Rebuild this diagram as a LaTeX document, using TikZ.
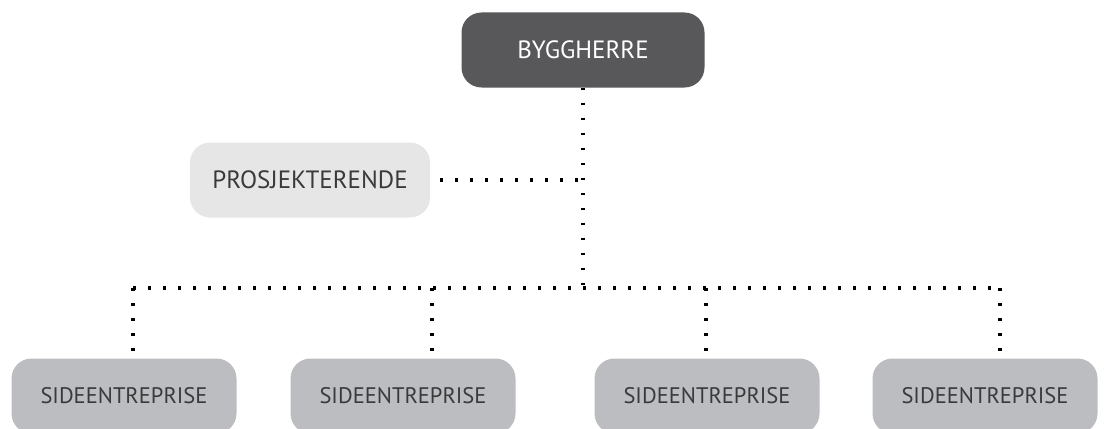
\documentclass[tikz,border=0pt]{standalone}
\usepackage{fontspec}
\setmainfont{PT Sans}
\usetikzlibrary{calc}

\definecolor{ownerbg}   {HTML}{58585A}
\definecolor{designbg}  {HTML}{E6E6E7}
\definecolor{contractbg}{HTML}{BCBDC0}
\definecolor{boxtext}   {HTML}{3A3A3C}

\tikzset{
  orgbox/.style={
    rectangle, rounded corners=20pt,
    minimum width=225pt, minimum height=75pt,
    inner sep=0pt, font=\fontsize{25}{27}\selectfont
  },
  ownerbox/.style={orgbox, fill=ownerbg, text=white, minimum width=243pt},
  designbox/.style={orgbox, fill=designbg, text=boxtext, minimum width=240pt},
  contractbox/.style={orgbox, fill=contractbg, text=boxtext,
    font=\fontsize{22.5}{24}\selectfont},
  dotline/.style={line width=3.5pt, dash pattern=on 2.5pt off 12.5pt}
}

\begin{document}
\begin{tikzpicture}[x=1pt, y=-1pt]
\useasboundingbox (0,0) rectangle (1118,428);

%% ── Boxes ────────────────────────────────────────────────────────
\node[ownerbox]    (byggherre) at (583,50)  {BYGGHERRE};
\node[designbox]   (prosj)     at (310,180) {PROSJEKTERENDE};
\node[contractbox] (side1)     at (124,396) {SIDEENTREPRISE};
\node[contractbox] (side2)     at (403,396) {SIDEENTREPRISE};
\node[contractbox] (side3)     at (707,396) {SIDEENTREPRISE};
\node[contractbox] (side4)     at (985,396) {SIDEENTREPRISE};

%% ── Bus line and drops ───────────────────────────────────────────
\coordinate (bus) at (583,288);
\coordinate (d1)  at (133,288);
\coordinate (d2)  at (432,288);
\coordinate (d3)  at (706,288);
\coordinate (d4)  at (1000,288);

\draw[dotline] (byggherre.south) -- (bus);
\draw[dotline] ([xshift=10pt]prosj.east) -- (prosj.east -| bus);
\draw[dotline] (d1) -- (d4);
\foreach \i in {1,...,4}
  \draw[dotline] (d\i) -- ([yshift=3pt]d\i |- side\i.north);
\end{tikzpicture}
\end{document}
